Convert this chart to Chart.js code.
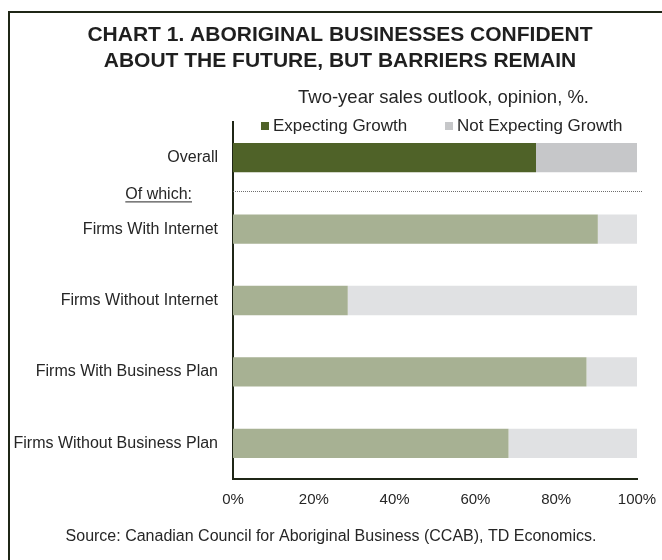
<!DOCTYPE html>
<html><head><meta charset="utf-8">
<script src="https://cdn.jsdelivr.net/npm/chart.js@4.4.0/dist/chart.umd.min.js"></script>
<style>html,body{margin:0;padding:0;background:#fff;} canvas{display:block;}</style>
</head><body>
<canvas id="c" width="662" height="560"></canvas>
<script>
const categories = ['Overall', 'Firms With Internet', 'Firms Without Internet', 'Firms With Business Plan', 'Firms Without Business Plan'];
const expectingGrowth = [75.0, 90.3, 28.4, 87.5, 68.2];
const notExpectingGrowth = [25.0, 9.7, 71.6, 12.5, 31.8];
const xTickValues = [0, 20, 40, 60, 80, 100];
const seriesNames = ['Expecting Growth', 'Not Expecting Growth'];
const titleLines = ['CHART 1. ABORIGINAL BUSINESSES CONFIDENT', 'ABOUT THE FUTURE, BUT BARRIERS REMAIN'];
const subtitleText = 'Two-year sales outlook, opinion, %.';
const sourceText = 'Source: Canadian Council for Aboriginal Business (CCAB), TD Economics.';
const subgroupLabel = 'Of which:';

const FONT = '"Liberation Sans", Arial, Helvetica, sans-serif';
const expectingColors = ['#4f6228', '#a7b193', '#a7b193', '#a7b193', '#a7b193'];
const notExpectingColors = ['#c6c7c9', '#e0e1e3', '#e0e1e3', '#e0e1e3', '#e0e1e3'];
const legendColors = ['#4f6228', '#c6c7c9'];

const decor = {
  id: 'decor',
  beforeDraw(chart) {
    const ctx = chart.ctx;
    ctx.save();
    ctx.fillStyle = '#ffffff';
    ctx.fillRect(0, 0, chart.width, chart.height);
    ctx.restore();
  },
  afterDraw(chart) {
    const { ctx, scales: { x, y } } = chart;
    ctx.save();
    // frame
    ctx.strokeStyle = '#1f2616';
    ctx.lineWidth = 2;
    ctx.strokeRect(9, 12, chart.width + 40, chart.height + 40);
    // title
    ctx.fillStyle = '#1f1f1f';
    ctx.textAlign = 'center';
    ctx.textBaseline = 'middle';
    ctx.font = 'bold 21px ' + FONT;
    ctx.fillText(titleLines[0], 340, 35);
    ctx.fillText(titleLines[1], 340, 61);
    // subtitle
    ctx.fillStyle = '#262626';
    ctx.textAlign = 'left';
    ctx.font = '18.5px ' + FONT;
    ctx.fillText(subtitleText, 298, 98);
    // legend
    ctx.font = '17px ' + FONT;
    const legendX = [261, 445];
    const ly = 126;
    seriesNames.forEach((name, i) => {
      ctx.fillStyle = legendColors[i];
      ctx.fillRect(legendX[i], ly - 4, 8, 8);
      ctx.fillStyle = '#262626';
      ctx.fillText(name, legendX[i] + 12, ly);
    });
    // "Of which:" label + dotted separator
    const mid = y.getPixelForValue(0.5);
    ctx.font = '16px ' + FONT;
    ctx.textAlign = 'right';
    ctx.fillStyle = '#262626';
    ctx.fillText(subgroupLabel, 192, mid + 1);
    const w = ctx.measureText(subgroupLabel).width;
    ctx.fillRect(192 - w, mid + 8, w, 1);
    ctx.strokeStyle = '#6f6f6f';
    ctx.lineWidth = 1;
    ctx.setLineDash([1, 1]);
    ctx.beginPath();
    ctx.moveTo(x.getPixelForValue(0), Math.round(mid - 2) + 0.5);
    ctx.lineTo(x.getPixelForValue(100) + 5, Math.round(mid - 2) + 0.5);
    ctx.stroke();
    ctx.setLineDash([]);
    // source
    ctx.font = '16px ' + FONT;
    ctx.textAlign = 'center';
    ctx.fillStyle = '#262626';
    ctx.fillText(sourceText, 331, 537);
    ctx.restore();
  }
};

new Chart(document.getElementById('c'), {
  type: 'bar',
  data: {
    labels: categories,
    datasets: [
      { label: seriesNames[0], data: expectingGrowth, backgroundColor: expectingColors, borderWidth: 0 },
      { label: seriesNames[1], data: notExpectingGrowth, backgroundColor: notExpectingColors, borderWidth: 0 }
    ]
  },
  options: {
    indexAxis: 'y',
    responsive: false,
    animation: false,
    devicePixelRatio: 1,
    layout: { padding: { top: 122, right: 25, bottom: 46, left: 0 } },
    datasets: { bar: { barPercentage: 0.41, categoryPercentage: 1 } },
    plugins: { legend: { display: false }, title: { display: false }, tooltip: { enabled: false } },
    scales: {
      x: {
        stacked: true, min: 0, max: 100,
        afterBuildTicks: (s) => { s.ticks = xTickValues.map(v => ({ value: v })); },
        afterFit: (s) => { s.height = 35; s.paddingLeft = 0; s.paddingRight = 0; },
        grid: { display: false, drawTicks: false },
        border: { display: true, color: '#1f2616', width: 2 },
        ticks: { padding: 12, color: '#262626', font: { family: FONT, size: 15 }, callback: (v) => v + '%' }
      },
      y: {
        stacked: true,
        afterFit: (s) => { s.width = 233; s.paddingTop = 0; s.paddingBottom = 0; },
        grid: { display: false, drawTicks: false },
        border: { display: true, color: '#1f2616', width: 2 },
        ticks: { padding: 15, color: '#262626', font: { family: FONT, size: 16 } }
      }
    }
  },
  plugins: [decor]
});
</script>
</body></html>
